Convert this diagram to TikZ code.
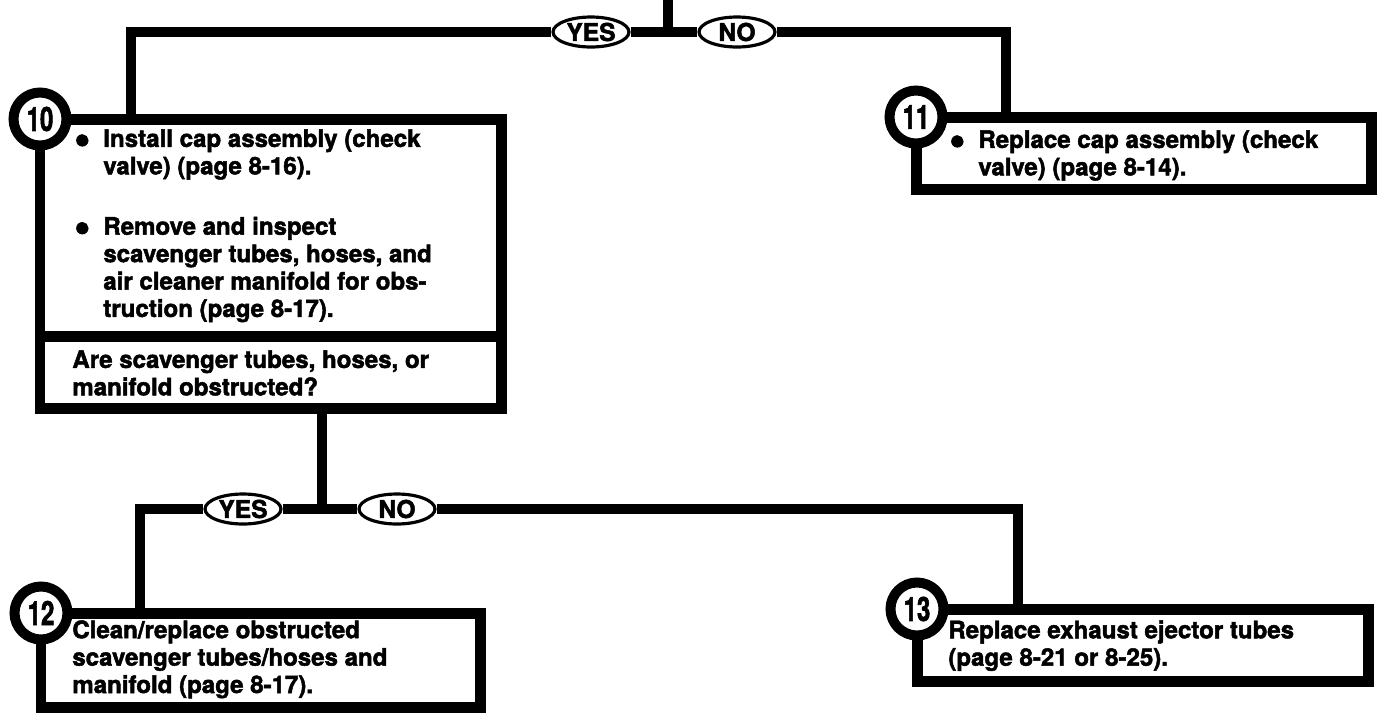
\documentclass[tikz,border=0pt]{standalone}
\usepackage{fontspec}
\setmainfont{TeX Gyre Heros}[BoldFeatures={FakeBold=2}]
\usetikzlibrary{shapes.geometric, fit, calc}

\newcommand{\bodyfont}{\fontsize{13.7}{15.6}\selectfont\bfseries}
\newcommand{\blt}{\llap{\raisebox{-0.3em}{\scalebox{1.9}{\textbullet}}\hspace{0.26cm}}}
\newcommand{\stepnum}[1]{\scalebox{0.72}[1]{#1}}

\begin{document}
\begin{tikzpicture}[
    x=0.02cm, y=-0.02cm,
    % styles
    box/.style={rectangle, draw, line width=0.22cm, inner sep=0pt, outer sep=0pt},
    conn/.style={line width=0.2cm},
    txt/.style={anchor=north west, align=left, inner sep=0pt, font=\bodyfont},
    numc/.style={circle, draw, fill=white, line width=0.2cm, minimum size=1.06cm, inner sep=0pt, font=\fontsize{19}{19}\selectfont\bfseries},
    yn/.style={ellipse, draw, fill=white, line width=1.8pt, minimum width=1.52cm, minimum height=0.6cm, inner sep=0pt, font=\fontsize{14}{14}\selectfont\bfseries}
]
\useasboundingbox (0,0) rectangle (1377,718);

% ----- first decision -----
\coordinate (topin) at (668,-10);
\coordinate (j1) at (668,32);
\node[yn] (yes1) at (591,32) {YES};
\node[yn] (no1) at (737,32) {NO};

% ----- boxes -----
\node[box, fit={(40,119) (501,336)}] (b10) {};
\node[box, fit={(40,336) (501,408)}] (q10) {};
\node[box, fit={(916,117) (1371,189)}] (b11) {};
\node[box, fit={(41,613) (480,707)}] (b12) {};
\node[box, fit={(917,609) (1368,681)}] (b13) {};

% ----- texts -----
\node[txt] (t10) at ($(b10.north west)+(63,10)$) {\blt Install cap assembly (check\\valve) (page 8-16).\\[0.66cm]\blt Remove and inspect\\scavenger tubes, hoses, and\\air cleaner manifold for obs-\\truction (page 8-17).};
\node[txt] (tq10) at ($(q10.north west)+(32,14)$) {Are scavenger tubes, hoses, or\\manifold obstructed?};
\node[txt] (t11) at ($(b11.north west)+(62,13)$) {\blt Replace cap assembly (check\\valve) (page 8-14).};
\node[txt] (t12) at ($(b12.north west)+(31,7)$) {Clean/replace obstructed\\scavenger tubes/hoses and\\manifold (page 8-17).};
\node[txt] (t13) at ($(b13.north west)+(31,11)$) {Replace exhaust ejector tubes\\(page 8-21 or 8-25).};

% ----- connectors -----
\draw[conn] (topin) -- (j1);
\draw[conn] (yes1) -- (no1);
\draw[conn] (yes1) -| ($(b10.north west)+(91,0)$);
\draw[conn] (no1) -| ($(b11.north west)+(90,0)$);

% ----- second decision -----
\coordinate (j2) at (322,509);
\node[yn] (yes2) at (243,509) {YES};
\node[yn] (no2) at (397,509) {NO};
\draw[conn] ($(q10.south west)+(282,0)$) -- (j2);
\draw[conn] (yes2) -- (no2);
\draw[conn] (yes2) -| ($(b12.north west)+(99,0)$);
\draw[conn] (no2) -| ($(b13.north west)+(101,0)$);

% ----- step numbers -----
\node[numc] (c10) at (b10.north west) {\stepnum{10}};
\node[numc] (c11) at (b11.north west) {\stepnum{11}};
\node[numc] (c12) at (b12.north west) {\stepnum{12}};
\node[numc] (c13) at (b13.north west) {\stepnum{13}};

\end{tikzpicture}
\end{document}
